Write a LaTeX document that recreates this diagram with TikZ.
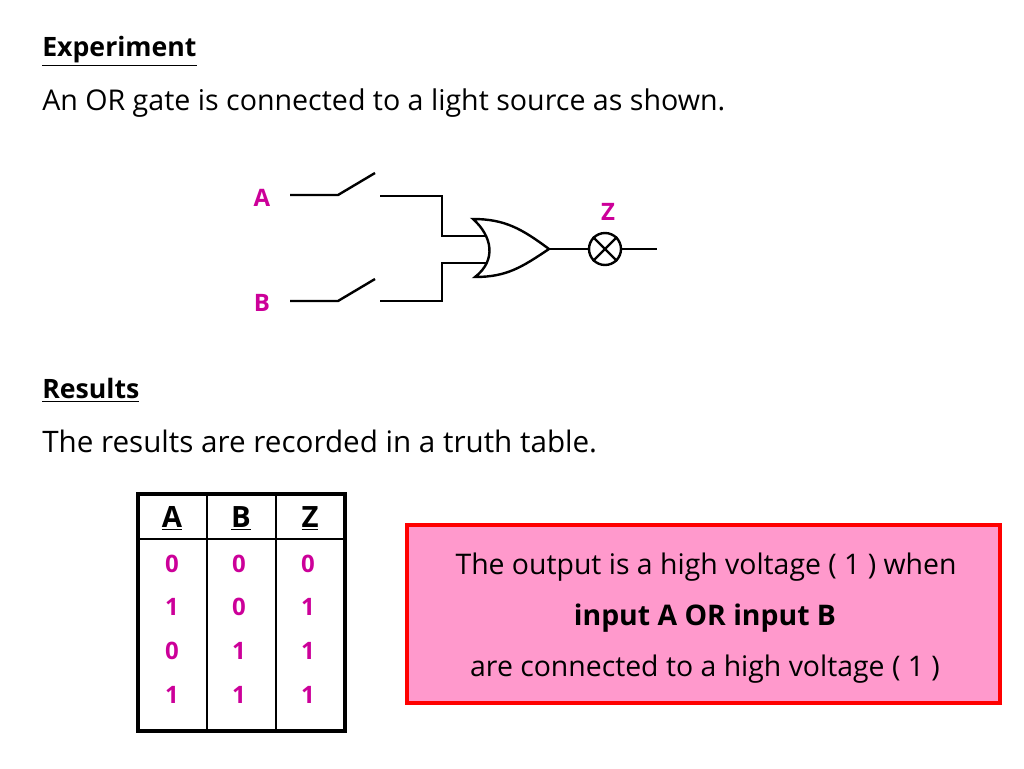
\documentclass[tikz,border=0pt]{standalone}
\usepackage{fontspec}
\setmainfont{Open Sans}
\begin{document}
\begin{tikzpicture}[x=0.75pt,y=-0.75pt]
			\tikzstyle{TextStyle}  = [anchor=west,inner sep=0pt,font=\fontsize{21.45}{26}\selectfont]
			\tikzstyle{WideText}   = [anchor=west,inner sep=0pt,font=\fontsize{22.2}{26}\selectfont]
			\tikzstyle{TitleStyle} = [anchor=west,inner sep=0pt,font=\fontsize{20}{24}\selectfont\bfseries]
			\tikzstyle{BoxText}    = [inner sep=0pt,font=\fontsize{21.3}{26}\selectfont]
			\tikzstyle{PinkLabel}  = [inner sep=0pt,text=labelpink,font=\fontsize{18}{22}\selectfont\bfseries]
			\tikzstyle{HeadLabel}  = [inner sep=0pt,font=\fontsize{22}{26}\selectfont\bfseries]
			\tikzstyle{WireStyle}  = [line width=1.8pt,line join=miter]
			\definecolor{labelpink}{RGB}{204,0,153}
			\definecolor{boxpink}{RGB}{255,153,204}

			\useasboundingbox (0,0) rectangle (1024,768);

			\node[TitleStyle] (Experiment) at (42,51) {\underline{Experiment}};
			\node[TextStyle] (Intro) at (42,103) {An OR gate is connected to a light source as shown.};
			\node[TitleStyle] (Results) at (42,390) {\underline{Results}};
			\node[WideText] (Recorded) at (42,441) {The results are recorded in a truth table.};

			\node[PinkLabel] (A) at (262,198) {A};
			\node[PinkLabel] (B) at (262,303) {B};
			\node[PinkLabel] (Z) at (608,212) {Z};

			\coordinate (A1) at (290,195); \coordinate (A2) at (338,195); \coordinate (A3) at (375,173);
			\coordinate (B1) at (290,301); \coordinate (B2) at (338,301); \coordinate (B3) at (375,279);
			\coordinate (A4) at (380,196); \coordinate (A5) at (442,196); \coordinate (A6) at (442,236);
			\coordinate (B4) at (380,301); \coordinate (B5) at (442,301); \coordinate (B6) at (442,263);
			\coordinate (GateTop) at (473,219); \coordinate (GateBottom) at (475,277);
			\coordinate (GateOut) at (549,249); \coordinate (GateA) at (485,236); \coordinate (GateB) at (487,263);
			\coordinate (LampEnd) at (657,249);

			\draw[WireStyle] (A1) -- (A2) -- (A3);
			\draw[WireStyle] (B1) -- (B2) -- (B3);
			\draw[WireStyle] (A4) -- (A5) -- (A6) -- (GateA);
			\draw[WireStyle] (B4) -- (B5) -- (B6) -- (GateB);
			\draw[WireStyle] (GateTop) .. controls (505,219) and (522,229) .. (GateOut)
				.. controls (522,267) and (507,277) .. (GateBottom)
				.. controls (497,260) and (492,236) .. (GateTop) -- cycle;

			\node[draw,circle,line width=1.8pt,minimum size=32*0.75pt,inner sep=0pt] (Lamp) at (605,249) {};
			\draw[WireStyle] (Lamp.45) -- (Lamp.225);
			\draw[WireStyle] (Lamp.135) -- (Lamp.315);
			\draw[WireStyle] (GateOut) -- (Lamp.west);
			\draw[WireStyle] (Lamp.east) -- (LampEnd);

			\node[draw=red,fill=boxpink,line width=3pt,minimum width=593*0.75pt,minimum height=178*0.75pt] (Summary) at (703,613.5) {};
			\node[BoxText] (Line1) at (706,567) {The output is a high voltage ( 1 ) when};
			\node[BoxText] (Line2) at (705,618) {\textbf{input A OR input B}};
			\node[BoxText] (Line3) at (705,669) {are connected to a high voltage ( 1 )};

			\node[draw,line width=2.4pt,minimum width=207*0.75pt,minimum height=237*0.75pt] (Table) at (241.5,612.5) {};
			\coordinate (Head1) at (138,539); \coordinate (Head2) at (345,539);
			\coordinate (Col1a) at (207,494); \coordinate (Col1b) at (207,731);
			\coordinate (Col2a) at (276,494); \coordinate (Col2b) at (276,731);
			\draw[line width=1.1pt] (Head1) -- (Head2);
			\draw[line width=1.1pt] (Col1a) -- (Col1b);
			\draw[line width=1.1pt] (Col2a) -- (Col2b);

			\node[HeadLabel] (HeadA) at (172,518) {\underline{A}};
			\node[HeadLabel] (HeadB) at (241,518) {\underline{B}};
			\node[HeadLabel] (HeadZ) at (310,518) {\underline{Z}};

			\node[PinkLabel] (A0) at (172,564) {0};
			\node[PinkLabel] (B0) at (239,564) {0};
			\node[PinkLabel] (Z0) at (308,564) {0};
			\node[PinkLabel] (A1n) at (172,607) {1};
			\node[PinkLabel] (B1n) at (239,607) {0};
			\node[PinkLabel] (Z1n) at (308,607) {1};
			\node[PinkLabel] (A2n) at (172,651) {0};
			\node[PinkLabel] (B2n) at (239,651) {1};
			\node[PinkLabel] (Z2n) at (308,651) {1};
			\node[PinkLabel] (A3n) at (172,695) {1};
			\node[PinkLabel] (B3n) at (239,695) {1};
			\node[PinkLabel] (Z3n) at (308,695) {1};
		\end{tikzpicture}
\end{document}
